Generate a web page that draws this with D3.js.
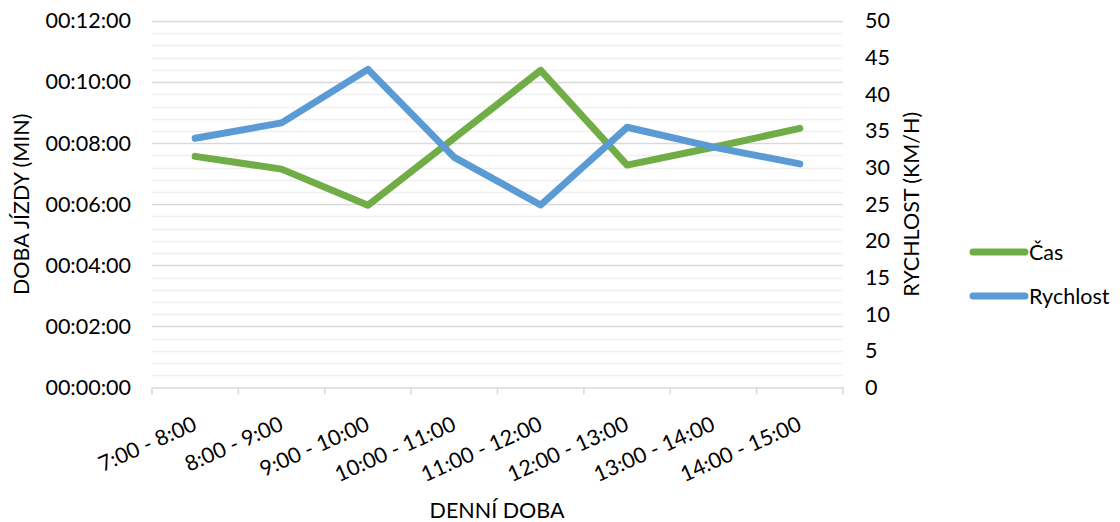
<!DOCTYPE html>
<html>
<head>
<meta charset="utf-8">
<script src="https://cdn.jsdelivr.net/npm/d3@7"></script>
<style>
  html, body { margin: 0; padding: 0; background: #fff; }
  svg text { font-family: Lato, "Open Sans", sans-serif; fill: #000; }
</style>
</head>
<body>
<svg id="chart" width="1120" height="522"></svg>
<script>
// Time-of-day intervals
const categories = ["7:00 - 8:00", "8:00 - 9:00", "9:00 - 10:00", "10:00 - 11:00",
                    "11:00 - 12:00", "12:00 - 13:00", "13:00 - 14:00", "14:00 - 15:00"];
// Travel time per interval, in seconds
const casSeconds = [454, 429, 358, 490, 623, 437, 472, 509];
// Average speed per interval, km/h
const rychlost = [34.0, 36.1, 43.4, 31.4, 24.9, 35.5, 32.8, 30.5];
// Axis ticks
const leftTicks = [0, 120, 240, 360, 480, 600, 720];
const rightTicks = [0, 5, 10, 15, 20, 25, 30, 35, 40, 45, 50];
const seriesNames = ["Čas", "Rychlost"];
const seriesColors = ["#70AD47", "#5B9BD5"];

const FS = 21.5;
const svg = d3.select("#chart");
const plot = { left: 152, right: 843, top: 21, bottom: 387.5 };

const x = d3.scaleBand().domain(categories).range([plot.left, plot.right]).padding(0);
const yTime = d3.scaleLinear().domain([0, 720]).range([plot.bottom, plot.top]);
const ySpeed = d3.scaleLinear().domain([0, 50]).range([plot.bottom, plot.top]);

const fmtTime = s => {
  const h = Math.floor(s / 3600), m = Math.floor((s % 3600) / 60), sec = s % 60;
  return [h, m, sec].map(v => String(v).padStart(2, "0")).join(":");
};

// Minor gridlines (every 24 s)
const minor = d3.range(0, 721, 24).filter(v => v % 120 !== 0);
svg.append("g").selectAll("line").data(minor).join("line")
  .attr("x1", plot.left).attr("x2", plot.right)
  .attr("y1", d => Math.round(yTime(d)) + 0.5).attr("y2", d => Math.round(yTime(d)) + 0.5)
  .attr("stroke", "#f0f0f0").attr("stroke-width", 1.5);

// Major gridlines
svg.append("g").selectAll("line").data(leftTicks.filter(d => d > 0)).join("line")
  .attr("x1", plot.left).attr("x2", plot.right)
  .attr("y1", d => Math.round(yTime(d)) + 0.5).attr("y2", d => Math.round(yTime(d)) + 0.5)
  .attr("stroke", "#d9d9d9").attr("stroke-width", 1.5);

// Left axis (time)
const leftAxis = svg.append("g")
  .attr("transform", `translate(${plot.left - 21},0)`)
  .call(d3.axisLeft(yTime).tickValues(leftTicks).tickFormat(fmtTime).tickSize(0).tickPadding(0));
leftAxis.select(".domain").remove();
leftAxis.selectAll("text").attr("font-size", FS).attr("fill", "#000")
  .style("font-family", "Lato, sans-serif");

// Right axis (speed)
const rightAxis = svg.append("g")
  .attr("transform", `translate(${plot.right + 22},0)`)
  .call(d3.axisRight(ySpeed).tickValues(rightTicks).tickFormat(d3.format("d")).tickSize(0).tickPadding(0));
rightAxis.select(".domain").remove();
rightAxis.selectAll("text").attr("font-size", FS).attr("fill", "#000")
  .style("font-family", "Lato, sans-serif");

// Category axis
const bottomAxis = svg.append("g")
  .attr("transform", `translate(0,${plot.bottom})`)
  .call(d3.axisBottom(x).tickSize(0).tickPadding(0));
bottomAxis.select(".domain").attr("stroke", "#d9d9d9").attr("stroke-width", 1.5);
bottomAxis.selectAll(".tick text").remove();
// Tick marks on category boundaries
const bounds = categories.map(c => x(c)).concat([x(categories[categories.length - 1]) + x.bandwidth()]);
bottomAxis.selectAll("line.bound").data(bounds).join("line").attr("class", "bound")
  .attr("x1", d => d).attr("x2", d => d).attr("y1", 0).attr("y2", 7)
  .attr("stroke", "#d9d9d9").attr("stroke-width", 1.5);
// Rotated category labels
svg.append("g").selectAll("text").data(categories).join("text")
  .attr("transform", d => `translate(${x(d) + x.bandwidth() / 2 + 3},${plot.bottom + 42}) rotate(-24)`)
  .attr("text-anchor", "end")
  .attr("font-size", FS)
  .text(d => d);

// Series lines
const lineTime = d3.line().x((d, i) => x(categories[i]) + x.bandwidth() / 2).y(d => yTime(d));
const lineSpeed = d3.line().x((d, i) => x(categories[i]) + x.bandwidth() / 2).y(d => ySpeed(d));
svg.append("path").datum(casSeconds).attr("d", lineTime)
  .attr("fill", "none").attr("stroke", seriesColors[0]).attr("stroke-width", 7)
  .attr("stroke-linecap", "round").attr("stroke-linejoin", "round");
svg.append("path").datum(rychlost).attr("d", lineSpeed)
  .attr("fill", "none").attr("stroke", seriesColors[1]).attr("stroke-width", 7)
  .attr("stroke-linecap", "round").attr("stroke-linejoin", "round");

// Axis titles
svg.append("text").attr("x", 497).attr("y", 518).attr("text-anchor", "middle")
  .attr("font-size", FS).text("DENNÍ DOBA");
svg.append("text").attr("transform", `translate(29,${(plot.top + plot.bottom) / 2}) rotate(-90)`)
  .attr("text-anchor", "middle").attr("font-size", FS).text("DOBA JÍZDY (MIN)");
svg.append("text").attr("transform", `translate(919,${(plot.top + plot.bottom) / 2}) rotate(-90)`)
  .attr("text-anchor", "middle").attr("font-size", FS).text("RYCHLOST (KM/H)");

// Legend
const legend = svg.append("g").selectAll("g").data(seriesNames).join("g")
  .attr("transform", (d, i) => `translate(973,${252 + i * 44})`);
legend.append("line").attr("x1", 0).attr("x2", 52).attr("y1", 0).attr("y2", 0)
  .attr("stroke", (d, i) => seriesColors[i]).attr("stroke-width", 7).attr("stroke-linecap", "round");
legend.append("text").attr("x", 56).attr("y", 7.5).attr("font-size", FS).text(d => d);
</script>
</body>
</html>
